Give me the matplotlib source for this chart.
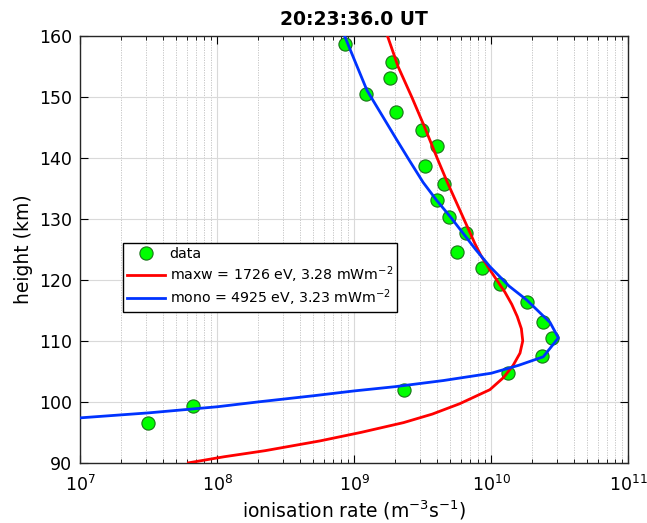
import numpy as np
import matplotlib
matplotlib.use("Agg")
import matplotlib.pyplot as plt
from matplotlib.ticker import LogLocator, NullFormatter

# data points: height (km), ionisation rate (m^-3 s^-1)
data_h = [158.7, 155.7, 153.1, 150.5, 147.5, 144.6, 142.0, 138.7, 135.7, 133.1,
          130.3, 127.7, 124.6, 122.0, 119.3, 116.4, 113.1, 110.5, 107.5, 104.8,
          101.9, 99.3, 96.5]
data_q = [8.6e8, 1.9e9, 1.83e9, 1.22e9, 2.03e9, 3.1e9, 4.0e9, 3.3e9, 4.5e9, 4.0e9,
          4.9e9, 6.5e9, 5.6e9, 8.6e9, 1.16e10, 1.83e10, 2.4e10, 2.8e10, 2.35e10, 1.33e10,
          2.32e9, 6.7e7, 3.15e7]

# maxw model
maxw_h = [90, 91, 92, 93.6, 95, 96.6, 98, 99.7, 102, 104, 106, 108, 110, 112, 114,
          116, 118, 120, 122, 124, 126, 128, 130, 133, 136, 140, 145, 150, 155, 160]
maxw_logq = [7.79, 8.05, 8.35, 8.75, 9.05, 9.36, 9.57, 9.77, 9.99, 10.09, 10.16, 10.21,
             10.23, 10.22, 10.19, 10.15, 10.10, 10.04, 9.98, 9.925, 9.88, 9.84, 9.80,
             9.74, 9.68, 9.605, 9.515, 9.42, 9.32, 9.243]

# mono model
mono_h = [97.3, 98.2, 99.2, 100.0, 101.0, 101.8, 102.5, 103.5, 104.7, 106.0, 107.4,
          110.5, 113.0, 116.7, 119.0, 122.2, 125.0, 128.2, 130.4, 133.1, 136.0, 139.7,
          143.0, 147.0, 151.1, 156.0, 160.0]
mono_logq = [6.95, 7.5, 8.0, 8.3, 8.7, 9.0, 9.3, 9.65, 10.0, 10.2, 10.38,
             10.49, 10.43, 10.26, 10.13, 9.99, 9.886, 9.776, 9.70, 9.60, 9.503, 9.40,
             9.31, 9.203, 9.093, 9.003, 8.93]

title = "20:23:36.0 UT"
lbl_data = "data"
lbl_maxw = "maxw = 1726 eV, 3.28 mWm$^{-2}$"
lbl_mono = "mono = 4925 eV, 3.23 mWm$^{-2}$"

fig = plt.figure(figsize=(6.47, 5.23), dpi=100)
ax = fig.add_axes([0.124, 0.115, 0.847, 0.816])

ax.plot(data_q, data_h, 'o', ms=9.5, mfc=(0, 1, 0), mec=(0.1, 0.45, 0.1), mew=0.8,
        label=lbl_data, zorder=3)
ax.plot(10 ** np.array(maxw_logq), maxw_h, color=(1, 0, 0), lw=2, label=lbl_maxw, zorder=4)
ax.plot(10 ** np.array(mono_logq), mono_h, color=(0, 0.2, 1), lw=2, label=lbl_mono, zorder=4)

ax.set_xscale('log')
ax.set_xlim(1e7, 1e11)
ax.set_ylim(90, 160)
ax.set_yticks(range(90, 161, 10))
ax.xaxis.set_major_locator(LogLocator(base=10, numticks=10))
ax.xaxis.set_minor_locator(LogLocator(base=10, subs=np.arange(2, 10), numticks=100))
ax.xaxis.set_minor_formatter(NullFormatter())

ax.grid(True, which='major', color=(0.85, 0.85, 0.85), lw=0.8, ls='-')
ax.grid(True, which='minor', axis='x', color=(0.75, 0.75, 0.75), lw=0.6, ls=(0, (1.5, 1.5)))
ax.set_axisbelow(True)

ax.tick_params(which='both', direction='in', top=True, right=True, labelsize=12.5,
               colors='black')
ax.tick_params(which='major', length=6)
ax.tick_params(which='minor', length=3)
ax.tick_params(axis='x', which='major', pad=9)
ax.tick_params(axis='y', which='major', pad=6)
for s in ax.spines.values():
    s.set_color((0.15, 0.15, 0.15))
    s.set_linewidth(1.0)

ax.set_title(title, fontsize=13.5, fontweight='bold', pad=8)
ax.set_xlabel("ionisation rate (m$^{-3}$s$^{-1}$)", fontsize=13.5, labelpad=2)
ax.set_ylabel("height (km)", fontsize=13.5)

leg = ax.legend(loc='upper left', bbox_to_anchor=(0.078, 0.515), borderaxespad=0,
                fontsize=10.2, fancybox=False, framealpha=1, edgecolor='black',
                handlelength=2.7, handletextpad=0.3, borderpad=0.3, labelspacing=0.2)
leg.get_frame().set_linewidth(1.0)

fig.savefig("out.png", dpi=100)
